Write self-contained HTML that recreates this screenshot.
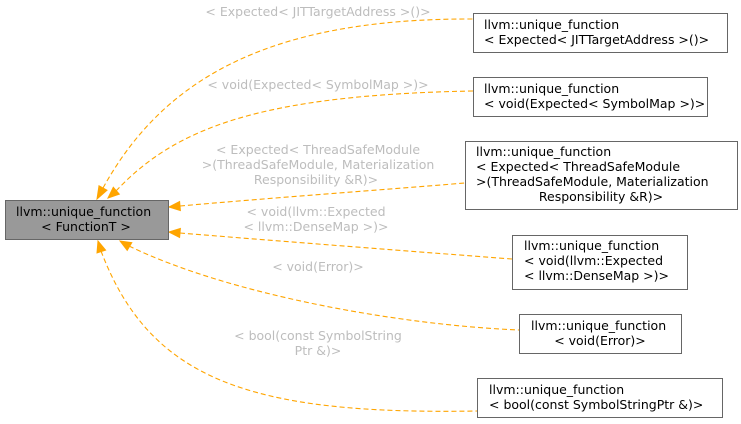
<!DOCTYPE html>
<html><head><meta charset="utf-8"><style>
html,body{margin:0;padding:0;background:#fff;}
svg{display:block;font-family:"DejaVu Sans","Liberation Sans",sans-serif;}
.lb{fill:#bdbdbd;font-size:12.5px;text-anchor:middle;}
.nt{fill:#000;font-size:12.5px;}
.c{text-anchor:middle;}
.e{fill:none;stroke:#ffa500;stroke-width:1.1;stroke-dasharray:5,3;}
.h{fill:#ffa500;stroke:#ffa500;}
</style></head><body>
<svg width="741" height="424" viewBox="0 0 741 424">
<path class="e" d="M103,188 C160,85 260,18 473,19"/>
<polygon class="h" points="97,199 107,190.2 99,185.8"/>
<path class="e" d="M116,191 C175,128 260,95 473,91"/>
<polygon class="h" points="108,198 119.3,194.1 113.3,187.3"/>
<path class="e" d="M180,206 C270,198 380,190 465,183"/>
<polygon class="h" points="169,207 180.4,210.5 179.6,201.5"/>
<path class="e" d="M180,233 C290,242 420,252 512,259"/>
<polygon class="h" points="169,232 179.6,237.5 180.4,228.5"/>
<path class="e" d="M129,246 C230,295 400,325 519,330"/>
<polygon class="h" points="120,241 127.2,250.4 131.8,242.6"/>
<path class="e" d="M101,251 C150,380 250,415 477,411"/>
<polygon class="h" points="98,241 97,252.9 105.6,250.1"/>
<text class="lb" x="318" y="16">&lt; Expected&lt; JITTargetAddress &gt;()&gt;</text>
<text class="lb" x="318" y="89">&lt; void(Expected&lt; SymbolMap &gt;)&gt;</text>
<text class="lb" x="318" y="154">&lt; Expected&lt; ThreadSafeModule</text>
<text class="lb" x="318" y="169">&gt;(ThreadSafeModule, Materialization</text>
<text class="lb" x="316" y="184">Responsibility &amp;R)&gt;</text>
<text class="lb" x="316" y="216">&lt; void(llvm::Expected</text>
<text class="lb" x="316" y="231">&lt; llvm::DenseMap &gt;)&gt;</text>
<text class="lb" x="318" y="271">&lt; void(Error)&gt;</text>
<text class="lb" x="318" y="340">&lt; bool(const SymbolString</text>
<text class="lb" x="318" y="355">Ptr &amp;)&gt;</text>
<rect x="5.5" y="200.5" width="163" height="39" fill="#999" stroke="#666"/>
<text class="nt" x="16" y="216">llvm::unique_function</text>
<text class="nt c" x="86" y="231">&lt; FunctionT &gt;</text>
<rect x="473.5" y="13.5" width="254" height="39" fill="#fff" stroke="#666"/>
<text class="nt" x="484" y="29">llvm::unique_function</text>
<text class="nt" x="484" y="44">&lt; Expected&lt; JITTargetAddress &gt;()&gt;</text>
<rect x="473.5" y="77.5" width="234" height="39" fill="#fff" stroke="#666"/>
<text class="nt" x="484" y="93">llvm::unique_function</text>
<text class="nt" x="484" y="108">&lt; void(Expected&lt; SymbolMap &gt;)&gt;</text>
<rect x="465.5" y="141.5" width="272" height="68" fill="#fff" stroke="#666"/>
<text class="nt" x="476" y="156">llvm::unique_function</text>
<text class="nt" x="476" y="171">&lt; Expected&lt; ThreadSafeModule</text>
<text class="nt" x="476" y="186">&gt;(ThreadSafeModule, Materialization</text>
<text class="nt c" x="601" y="201">Responsibility &amp;R)&gt;</text>
<rect x="512.5" y="235.5" width="175" height="54" fill="#fff" stroke="#666"/>
<text class="nt" x="524" y="250">llvm::unique_function</text>
<text class="nt" x="524" y="265">&lt; void(llvm::Expected</text>
<text class="nt" x="524" y="280">&lt; llvm::DenseMap &gt;)&gt;</text>
<rect x="519.5" y="314.5" width="162" height="39" fill="#fff" stroke="#666"/>
<text class="nt" x="531" y="330">llvm::unique_function</text>
<text class="nt c" x="600" y="345">&lt; void(Error)&gt;</text>
<rect x="477.5" y="378.5" width="245" height="39" fill="#fff" stroke="#666"/>
<text class="nt" x="489" y="394">llvm::unique_function</text>
<text class="nt" x="489" y="409">&lt; bool(const SymbolStringPtr &amp;)&gt;</text>
</svg>
</body></html>
